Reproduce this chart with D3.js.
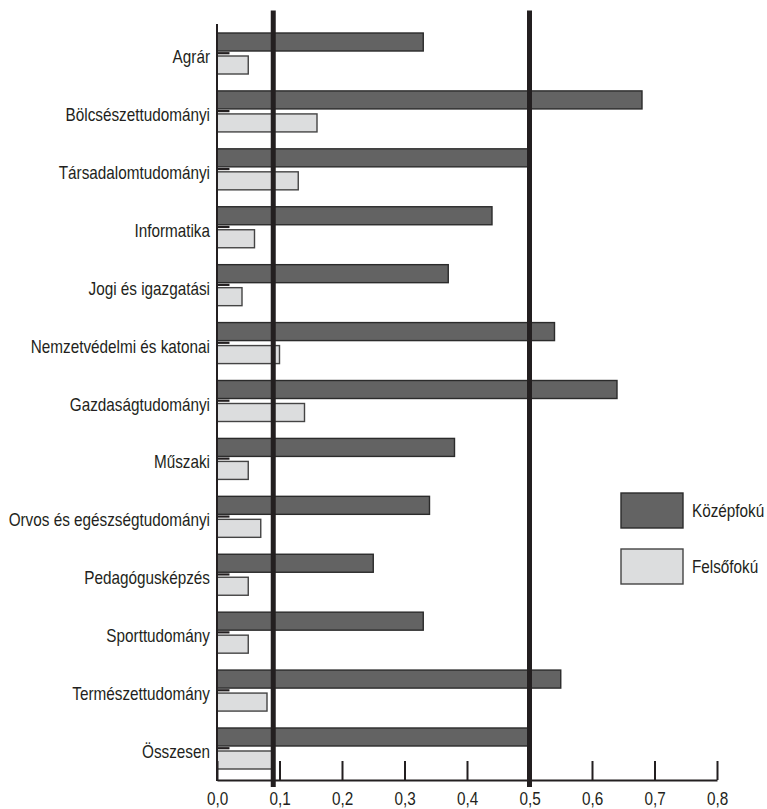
<!DOCTYPE html>
<html><head><meta charset="utf-8">
<script src="https://cdn.jsdelivr.net/npm/d3@7"></script>
<style>
html,body{margin:0;padding:0;background:#fff;}
text{font-family:"Liberation Sans",Arial,sans-serif;fill:#231f20;}
</style></head>
<body>
<svg id="chart" width="767" height="809"></svg>
<script>
const categories = ["Agrár","Bölcsészettudományi","Társadalomtudományi","Informatika","Jogi és igazgatási","Nemzetvédelmi és katonai","Gazdaságtudományi","Műszaki","Orvos és egészségtudományi","Pedagógusképzés","Sporttudomány","Természettudomány","Összesen"];
const kozepfoku = [0.33,0.68,0.50,0.44,0.37,0.54,0.64,0.38,0.34,0.25,0.33,0.55,0.50];
const felsofoku = [0.05,0.16,0.13,0.06,0.04,0.10,0.14,0.05,0.07,0.05,0.05,0.08,0.09];
const markerValue = [0.02,0.02,0.02,0.02,0.02,0.02,0.02,0.02,0.02,0.02,0.02,0.02,0.02];
const refLines = [0.09, 0.5];
const xTicks = [0,0.1,0.2,0.3,0.4,0.5,0.6,0.7,0.8];
const seriesNames = ["Középfokú","Felsőfokú"];

const colors = {dark:"#636363", light:"#dcddde", ink:"#231f20"};
const narrow = 0.85;
const svg = d3.select("#chart");

const x = d3.scaleLinear().domain([0,0.8]).range([217,717]);
const y = d3.scaleBand().domain(categories).range([33,769]).paddingInner(0.292).paddingOuter(0);
const sub = d3.scaleBand().domain(["k","f"]).range([0,y.bandwidth()]).paddingInner(0.217);

const data = categories.map((c,i)=>({c, k:kozepfoku[i], f:felsofoku[i], m:markerValue[i]}));

// bars
const g = svg.append("g");
g.selectAll("rect.k").data(data).join("rect").attr("class","k")
  .attr("x",x(0)).attr("y",d=>y(d.c)+sub("k"))
  .attr("width",d=>x(d.k)-x(0)).attr("height",sub.bandwidth())
  .attr("fill",colors.dark).attr("stroke","#2b2b2b").attr("stroke-width",1.4);
g.selectAll("rect.f").data(data).join("rect").attr("class","f")
  .attr("x",x(0)).attr("y",d=>y(d.c)+sub("f"))
  .attr("width",d=>x(d.f)-x(0)).attr("height",sub.bandwidth())
  .attr("fill",colors.light).attr("stroke","#444").attr("stroke-width",1.4);
g.selectAll("line.m").data(data).join("line").attr("class","m")
  .attr("x1",x(0)).attr("x2",d=>x(d.m))
  .attr("y1",d=>y(d.c)+sub("k")+sub.bandwidth()+2.2)
  .attr("y2",d=>y(d.c)+sub("k")+sub.bandwidth()+2.2)
  .attr("stroke",colors.ink).attr("stroke-width",2.2);

// category labels
svg.append("g").selectAll("text").data(categories).join("text")
  .attr("transform",d=>`translate(210,${y(d)+y.bandwidth()/2+9.5}) scale(${narrow},1)`)
  .attr("text-anchor","end").attr("font-size",18).text(d=>d);

// left axis line
svg.append("line").attr("x1",x(0)).attr("x2",x(0)).attr("y1",24).attr("y2",781)
  .attr("stroke",colors.ink).attr("stroke-width",2);

// bottom axis
const axis = d3.axisBottom(x).tickValues(xTicks).tickSizeInner(-19).tickSizeOuter(0)
  .tickFormat(d=>d3.format(".1f")(d).replace(".",","));
const ax = svg.append("g").attr("transform","translate(0,780)").call(axis);
ax.select(".domain").attr("stroke",colors.ink).attr("stroke-width",2);
ax.selectAll(".tick line").attr("stroke",colors.ink).attr("stroke-width",2);
ax.selectAll(".tick text").attr("y",null).attr("dy",null)
  .attr("transform",`translate(0,25) scale(${narrow},1)`).attr("font-size",18)
  .attr("font-family",'"Liberation Sans",Arial,sans-serif').attr("fill",colors.ink);

// reference lines
svg.append("g").selectAll("line").data(refLines).join("line")
  .attr("x1",d=>x(d)).attr("x2",d=>x(d)).attr("y1",10.5).attr("y2",787)
  .attr("stroke",colors.ink).attr("stroke-width",5);

// legend
const leg = svg.append("g");
const legY = [493,549];
seriesNames.forEach((s,i)=>{
  leg.append("rect").attr("x",621).attr("y",legY[i]).attr("width",62).attr("height",35)
    .attr("fill",i===0?colors.dark:colors.light).attr("stroke",i===0?"#2b2b2b":"#444").attr("stroke-width",1.4);
  leg.append("text").attr("transform",`translate(692,${legY[i]+17.5+6.5}) scale(${narrow},1)`)
    .attr("font-size",18).text(s);
});
</script>
</body></html>
